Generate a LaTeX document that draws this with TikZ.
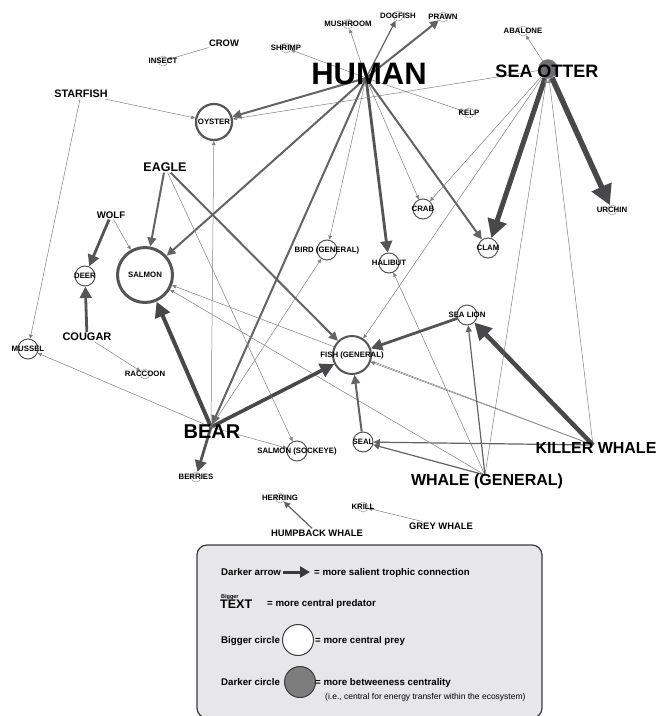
\documentclass[tikz,border=0pt]{standalone}
\usepackage{fontspec}
\setmainfont{Liberation Sans}
\usetikzlibrary{arrows.meta,backgrounds}
\definecolor{gdark}{HTML}{48484A}
\definecolor{gmid}{HTML}{636363}
\definecolor{glite}{HTML}{808080}
\definecolor{ringgrey}{HTML}{555555}
\definecolor{dotgrey}{HTML}{9A9A9A}
\definecolor{hubgrey}{HTML}{6E6E70}
\definecolor{keyfill}{HTML}{E7E7E9}
\definecolor{keydraw}{HTML}{3A3A3A}
\def\fsz#1{\fontsize{#1}{#1}\selectfont}

\begin{document}
\begin{tikzpicture}[x=1pt, y=-1pt,
  tag/.style={font=\bfseries\fsz{7.8}, inner sep=0pt},
  predator/.style={font=\bfseries\fsz{#1}, inner sep=1pt},
  keytext/.style={font=\bfseries\fsz{9.7}, inner sep=0pt, anchor=base west},
  dot/.style={circle, draw=dotgrey, line width=0.5pt, fill=white, inner sep=0pt, minimum size=10pt},
  prey/.style={circle, draw=ringgrey, line width=1pt, fill=white, inner sep=0pt, minimum size=20pt},
  bigprey/.style={circle, draw=ringgrey, line width=#1, fill=white, inner sep=0pt},
  weak/.style={draw=glite, line width=0.5pt, -{Triangle[length=2.5pt 3.2, width=2pt 3.4]}},
  fair/.style={weak, draw=gmid, line width=1.2pt},
  firm/.style={weak, draw=gmid, line width=2pt},
  heavy/.style={weak, draw=gmid!85!black, line width=2.8pt},
  salient/.style={weak, draw=gdark, line width=#1}]

\useasboundingbox (0,0) rectangle (656,716);

% central prey
\node[bigprey=2.2pt, minimum size=36pt, label={[tag]center:OYSTER}] (oyster) at (214,122) {};
\node[bigprey=3pt, minimum size=55pt, label={[tag]center:SALMON}] (salmon) at (145,275) {};
\node[bigprey=2pt, minimum size=38pt, label={[tag]center:FISH (GENERAL)}] (fish) at (352,355) {};

\foreach \name/\x/\y/\txt in {deer/85/276/DEER, crab/423/209/CRAB, clam/488/248/CLAM,
    bird/327/250/BIRD (GENERAL), halibut/389/263/HALIBUT, sealion/467/315/SEA LION,
    mussel/28/349/MUSSEL, seal/363/442/SEAL, sockeye/297/451/SALMON (SOCKEYE)}
  \node[prey, label={[tag]center:\txt}] (\name) at (\x,\y) {};

\foreach \name/\x/\y/\txt in {mushroom/348/24/MUSHROOM, dogfish/398/16/DOGFISH,
    prawn/443/17/PRAWN, abalone/523/31/ABALONE, shrimp/286/48/SHRIMP,
    insect/163/61/INSECT, kelp/469/113/KELP, urchin/612/210/URCHIN,
    raccoon/145/374/RACCOON, berries/196/477/BERRIES, herring/280/498/HERRING,
    krill/363/507/KRILL}
  \node[dot, label={[tag]center:\txt}] (\name) at (\x,\y) {};

% predators
\node[circle, fill=hubgrey, draw=glite, minimum size=19pt, inner sep=0pt] (seaotter) at (548,69) {};
\node[predator=18] (seaotterlbl) at (547,71) {SEA OTTER};
\coordinate (human) at (366,78);
\node[predator=31] (humanlbl) at (369,74) {HUMAN};
\coordinate (bear) at (211,427);
\node[predator=20] (bearlbl) at (212,432) {BEAR};
\coordinate (killer) at (593,445);
\node[predator=16] (killerlbl) at (596,448) {KILLER WHALE};
\coordinate (whale) at (485,475);
\node[predator=16] (whalelbl) at (487,481) {WHALE (GENERAL)};
\node[predator=9.4] (crow) at (224,43) {CROW};
\node[predator=10.8] (starfish) at (81,94) {STARFISH};
\node[predator=12.5] (eagle) at (165,167) {EAGLE};
\node[predator=9.6] (wolf) at (111,215) {WOLF};
\node[predator=11] (cougar) at (87,337) {COUGAR};
\node[predator=9.4] (humpback) at (317,533) {HUMPBACK WHALE};
\node[predator=9.4] (greywhale) at (441,526) {GREY WHALE};

\begin{scope}[on background layer]
% human
\draw[weak] (human) -- (mushroom);
\draw[fair] (human) -- (dogfish);
\draw[firm] (human) -- (prawn);
\draw[weak] (human) -- (shrimp);
\draw[weak] (human) -- (kelp);
\draw[firm] (human) -- (oyster);
\draw[firm] (human) -- (salmon);
\draw[firm, shorten >=3pt] (human) -- (bear);
\draw[weak] (human) -- (bird);
\draw[heavy] (human) -- (halibut);
\draw[weak] (human) -- (crab);
\draw[firm] (human) -- (clam);
% sea otter
\draw[weak] (seaotter) -- (abalone);
\draw[weak] (seaotter) -- (oyster);
\draw[weak] (seaotter) -- (crab);
\draw[weak] (seaotter) -- (fish);
\draw[salient=5pt] (seaotter) -- (clam);
\draw[salient=5.5pt] (seaotter) -- (urchin);
% whales
\draw[weak] (killer) -- (seaotter);
\draw[weak] (killer) -- (fish);
\draw[weak] (killer) -- (salmon);
\draw[fair] (killer) -- (seal);
\draw[salient=4.5pt] (killer) -- (sealion);
\draw[weak] (whale) -- (seaotter);
\draw[weak] (whale) -- (salmon);
\draw[weak] (whale) -- (halibut);
\draw[fair] (whale) -- (sealion);
\draw[fair] (whale) -- (seal);
\draw[fair] (humpback) -- (herring);
\draw[weak] (greywhale) -- (krill);
% bear
\draw[salient=4pt] (bear) -- (salmon);
\draw[salient=3.6pt] (bear) -- (fish);
\draw[heavy] (bear) -- (berries);
\draw[weak] (bear) -- (oyster);
\draw[weak] (bear) -- (mussel);
\draw[weak] (bear) -- (sockeye);
\draw[weak] (bear) -- (bird);
% the rest
\draw[firm] (eagle) -- (salmon);
\draw[firm] (eagle) -- (fish);
\draw[weak] (eagle) -- (sockeye);
\draw[heavy] (wolf) -- (deer);
\draw[weak] (wolf) -- (salmon);
\draw[heavy] (cougar) -- (deer);
\draw[weak] (cougar) -- (raccoon);
\draw[weak] (starfish) -- (oyster);
\draw[weak] (starfish) -- (mussel);
\draw[weak] (crow) -- (insect);
\draw[firm] (seal) -- (fish);
\draw[heavy] (sealion) -- (fish);
\end{scope}

% legend
\draw[rounded corners=10pt, fill=keyfill, draw=keydraw, line width=1.2pt] (197,545) rectangle (542,718);
\node[keytext] (arrowkey) at (221,575.5) {Darker arrow};
\coordinate (keytail) at (283,572);
\coordinate (keytip) at (310,572);
\draw[draw=keydraw, line width=3pt, -{Triangle[length=10pt, width=11pt]}] (keytail) -- (keytip);
\node[keytext] (arrowdef) at (314,575.5) {= more salient trophic connection};
\node[font=\bfseries\fsz{5.5}, anchor=base west, inner sep=0pt] (biggerword) at (221,598) {Bigger};
\node[font=\bfseries\fsz{12.5}, anchor=base west, inner sep=0pt] (textword) at (220,608) {TEXT};
\node[keytext] (textdef) at (267,606.5) {= more central predator};
\node[keytext] (circlekey) at (221,643.5) {Bigger circle};
\node[circle, draw=keydraw, fill=white, line width=1pt, minimum size=31pt] (whitedisc) at (298,640) {};
\node[keytext] (circledef) at (315,643.5) {= more central prey};
\node[keytext] (darkkey) at (221,685.5) {Darker circle};
\node[circle, draw=keydraw, fill=hubgrey!90!white, line width=1pt, minimum size=31pt] (greydisc) at (300,682) {};
\node[keytext] (darkdef) at (315,685.5) {= more betweeness centrality};
\node[font=\fsz{8.5}, anchor=base west, inner sep=0pt] (darknote) at (325,699) {(i.e., central for energy transfer within the ecosystem)};
\end{tikzpicture}
\end{document}
